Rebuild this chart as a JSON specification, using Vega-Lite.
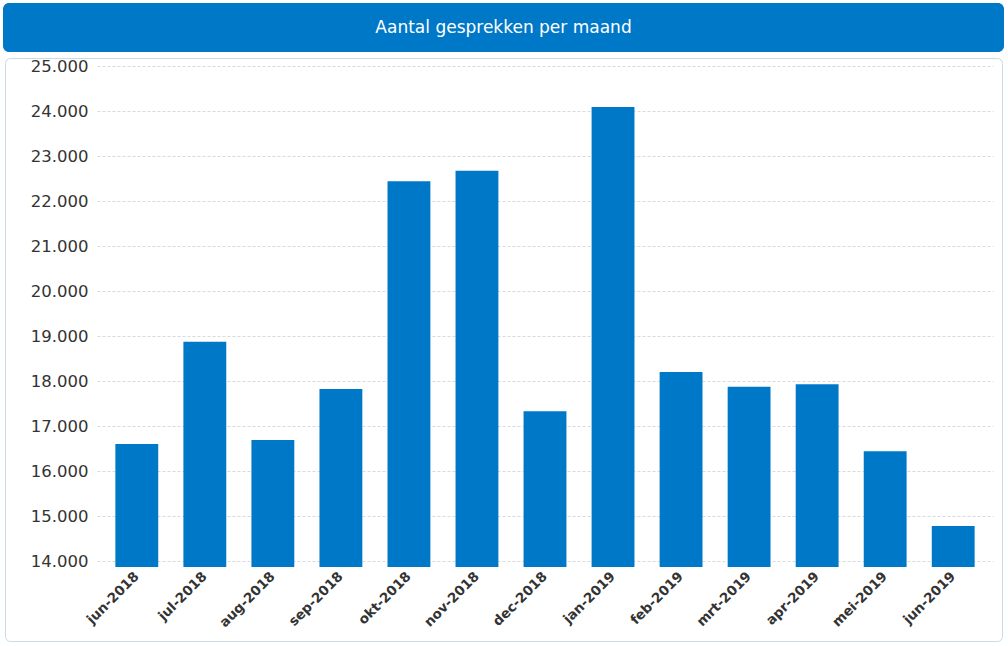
{
  "$schema": "https://vega.github.io/schema/vega-lite/v6.json",
  "padding": {"left": 3, "top": 3, "right": 3, "bottom": 3},
  "background": "white",
  "config": {"font": "DejaVu Sans"},
  "bounds": "flush",
  "spacing": 6,
  "center": true,
  "vconcat": [
    {
      "width": 1001,
      "height": 49,
      "view": {"fill": "#0078c8", "stroke": null, "cornerRadius": 6},
      "data": {"values": [{"t": "Aantal gesprekken per maand", "px": 0.5, "py": 0.5}]},
      "mark": {"type": "text", "color": "white", "fontSize": 17, "font": "DejaVu Sans", "align": "center", "baseline": "middle"},
      "encoding": {
        "text": {"field": "t"},
        "x": {"field": "px", "type": "quantitative", "scale": {"domain": [0, 1]}, "axis": null},
        "y": {"field": "py", "type": "quantitative", "scale": {"domain": [0, 1]}, "axis": null}
      }
    },
    {
      "width": 997,
      "height": 583,
      "view": {"fill": "white", "stroke": "#c5dbe8", "strokeWidth": 1, "cornerRadius": 5},
      "data": {"values": [
        {"maand": "jun-2018", "gesprekken": 16600, "basis": 13867},
        {"maand": "jul-2018", "gesprekken": 18870, "basis": 13867},
        {"maand": "aug-2018", "gesprekken": 16690, "basis": 13867},
        {"maand": "sep-2018", "gesprekken": 17820, "basis": 13867},
        {"maand": "okt-2018", "gesprekken": 22440, "basis": 13867},
        {"maand": "nov-2018", "gesprekken": 22670, "basis": 13867},
        {"maand": "dec-2018", "gesprekken": 17330, "basis": 13867},
        {"maand": "jan-2019", "gesprekken": 24090, "basis": 13867},
        {"maand": "feb-2019", "gesprekken": 18200, "basis": 13867},
        {"maand": "mrt-2019", "gesprekken": 17870, "basis": 13867},
        {"maand": "apr-2019", "gesprekken": 17930, "basis": 13867},
        {"maand": "mei-2019", "gesprekken": 16440, "basis": 13867},
        {"maand": "jun-2019", "gesprekken": 14780, "basis": 13867}
      ]},
      "mark": {"type": "bar", "color": "#0078c8"},
      "encoding": {
        "x": {
          "field": "maand", "type": "nominal", "sort": null,
          "scale": {"range": [92, 988], "paddingInner": 0.37, "paddingOuter": 0.27},
          "axis": {
            "title": null, "orient": "bottom", "offset": -74,
            "domain": false, "ticks": false, "grid": false,
            "labelAngle": -45, "labelAlign": "right", "labelBaseline": "middle",
            "labelFont": "DejaVu Sans", "labelFontSize": 13.5, "labelFontWeight": "bold",
            "labelColor": "#333333", "labelPadding": 7
          }
        },
        "y": {
          "field": "gesprekken", "type": "quantitative",
          "scale": {"domain": [13867, 25000], "range": [509, 8], "zero": false, "nice": false},
          "axis": {
            "title": null, "orient": "left", "offset": -83,
            "values": [14000, 15000, 16000, 17000, 18000, 19000, 20000, 21000, 22000, 23000, 24000, 25000],
            "labelExpr": "replace(format(datum.value, ','), ',', '.')",
            "domain": false, "ticks": false, "grid": true,
            "gridColor": "#dadada", "gridDash": [3, 2], "gridWidth": 1,
            "labelFont": "DejaVu Sans", "labelFontSize": 16.5, "labelColor": "#333333", "labelPadding": 0
          }
        },
        "y2": {"field": "basis"}
      }
    }
  ]
}
